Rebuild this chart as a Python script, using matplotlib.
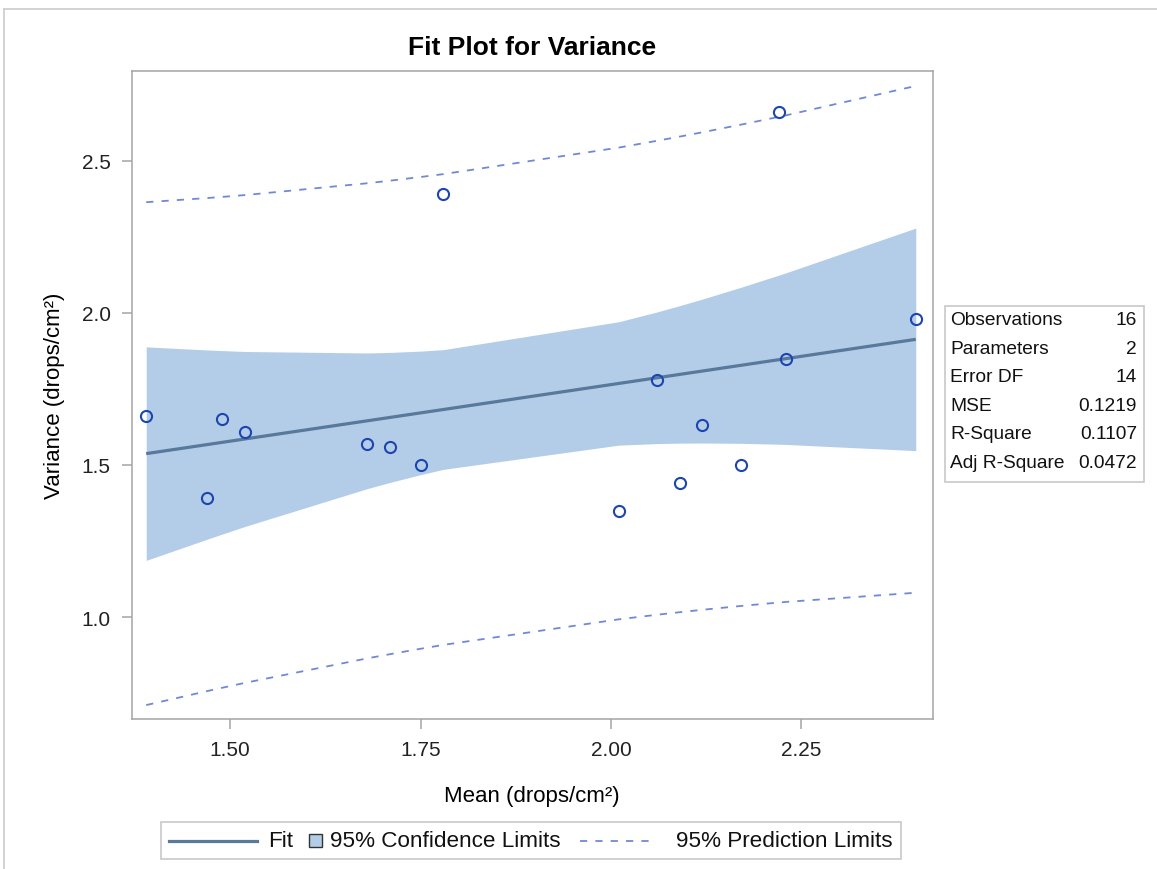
import numpy as np
import matplotlib
matplotlib.use("Agg")
import matplotlib.pyplot as plt
from matplotlib.lines import Line2D
from matplotlib.patches import Rectangle
from matplotlib.offsetbox import DrawingArea, TextArea, HPacker, AnchoredOffsetbox

plt.rcParams['font.family'] = ['Liberation Sans', 'DejaVu Sans']

# observations: mean and variance of drop counts
mean_drops = [1.39, 1.47, 1.49, 1.52, 1.68, 1.71, 1.75, 1.78,
              2.01, 2.06, 2.09, 2.12, 2.17, 2.22, 2.23, 2.40]
var_drops = [1.66, 1.39, 1.65, 1.61, 1.57, 1.56, 1.50, 2.39,
             1.35, 1.78, 1.44, 1.63, 1.50, 2.66, 1.85, 1.98]

x_ticks = [1.50, 1.75, 2.00, 2.25]
y_ticks = [1.0, 1.5, 2.0, 2.5]

stat_labels = ["Observations", "Parameters", "Error DF", "MSE", "R-Square", "Adj R-Square"]
stat_values = ["16", "2", "14", "0.1219", "0.1107", "0.0472"]

legend_labels = ["Fit", "95% Confidence Limits", "95% Prediction Limits"]

t_crit = 2.1448  # t(0.975, df=14)

FIT_COLOR = '#58799c'
BAND_COLOR = '#b3cde8'
PRED_COLOR = '#7189d4'
MARKER_COLOR = '#1c45b0'
FRAME_COLOR = '#a4a4a4'
W, H = 1157, 870

# simple linear regression with confidence / prediction limits
x = np.array(mean_drops)
y = np.array(var_drops)
n = len(x)
slope, intercept = np.polyfit(x, y, 1)
resid = y - (intercept + slope * x)
mse = np.sum(resid ** 2) / (n - 2)
xbar = x.mean()
sxx = np.sum((x - xbar) ** 2)

xs = np.unique(x)
yhat = intercept + slope * xs
se_mean = np.sqrt(mse * (1.0 / n + (xs - xbar) ** 2 / sxx))
se_pred = np.sqrt(mse * (1.0 + 1.0 / n + (xs - xbar) ** 2 / sxx))

fig = plt.figure(figsize=(W / 100, H / 100), dpi=100)
ax = fig.add_axes([131.5 / W, 1 - 720 / H, (933 - 131.5) / W, (720 - 72) / H])

ax.fill_between(xs, yhat - t_crit * se_mean, yhat + t_crit * se_mean,
                color=BAND_COLOR, lw=0, zorder=1)
ax.plot(xs, yhat, color=FIT_COLOR, lw=2.3, zorder=3, solid_capstyle='butt')
ax.plot(xs, yhat + t_crit * se_pred, color=PRED_COLOR, lw=1.3,
        ls=(0, (4, 4.5)), zorder=2)
ax.plot(xs, yhat - t_crit * se_pred, color=PRED_COLOR, lw=1.3,
        ls=(0, (4, 4.5)), zorder=2)
ax.plot(x, y, 'o', ms=8, mfc='none', mec=MARKER_COLOR, mew=1.5, zorder=4)

ax.set_xlim(1.3707, 2.4226)
ax.set_ylim(0.6645, 2.796)
ax.set_xticks(x_ticks)
ax.set_xticklabels(["%.2f" % v for v in x_ticks])
ax.set_yticks(y_ticks)
ax.set_yticklabels(["%.1f" % v for v in y_ticks])
ax.tick_params(length=7, width=1.1, color=FRAME_COLOR, labelsize=15,
               labelcolor='#222222', pad=8)
for sp in ax.spines.values():
    sp.set_color(FRAME_COLOR)
    sp.set_linewidth(1.1)

ax.set_title("Fit Plot for Variance", fontsize=19, fontweight='bold', pad=12)
ax.set_xlabel("Mean (drops/cm²)", fontsize=16, va='center')
ax.xaxis.set_label_coords(0.5, -(797 - 720) / (720 - 72))
ax.set_ylabel("Variance (drops/cm²)", fontsize=16, va='center')
ax.yaxis.set_label_coords(-(131.5 - 55) / (933 - 131.5), 0.5)

# fit statistics box
fig.add_artist(Rectangle((945 / W, 1 - 483 / H), (1144 - 945) / W, (483 - 307) / H,
                         transform=fig.transFigure, fill=False,
                         ec='#c4c4c4', lw=1.1))
for i, (lab, val) in enumerate(zip(stat_labels, stat_values)):
    yy = 1 - (320.5 + i * 28.6) / H
    fig.text(950 / W, yy, lab, fontsize=13.8, va='center', ha='left', color='#111111')
    fig.text(1137 / W, yy, val, fontsize=13.8, va='center', ha='right', color='#111111')

# legend, built from drawing areas so every gap can be set
px = 72 / 100
fs = 16.2


def gap(width):
    return DrawingArea(width * px, 1)


da_fit = DrawingArea(88 * px, 12 * px)
da_fit.add_artist(Line2D([0, 88 * px], [6 * px, 6 * px], color=FIT_COLOR, lw=2.3))
da_ci = DrawingArea(13 * px, 13 * px)
da_ci.add_artist(Rectangle((0, 0), 13 * px, 13 * px, fc=BAND_COLOR, ec='#333333', lw=1.0))
da_pi = DrawingArea(74 * px, 12 * px)
da_pi.add_artist(Line2D([0, 74 * px], [6 * px, 6 * px], color=PRED_COLOR, lw=1.3,
                        ls=(0, (4, 4.5))))
texts = [TextArea(lab, textprops=dict(size=fs, color='#111111')) for lab in legend_labels]
row = [da_fit, gap(11), texts[0], gap(16), da_ci, gap(8), texts[1],
       gap(19), da_pi, gap(23), texts[2]]
packed = HPacker(children=row, sep=0, align='center')
leg = AnchoredOffsetbox(loc='center', child=packed, pad=0.36, borderpad=0,
                        frameon=True, prop=dict(size=fs),
                        bbox_to_anchor=(531 / W, 1 - 841.5 / H),
                        bbox_transform=fig.transFigure)
leg.patch.set_edgecolor('#c4c4c4')
leg.patch.set_linewidth(1.1)
fig.add_artist(leg)

# outer border
fig.add_artist(Line2D([4 / W, 1], [1 - 10 / H, 1 - 10 / H], transform=fig.transFigure,
                      color='#cfcfcf', lw=1.3))
fig.add_artist(Line2D([4 / W, 4 / W], [0, 1 - 10 / H], transform=fig.transFigure,
                      color='#cfcfcf', lw=1.3))

fig.savefig("out.png", dpi=100)
